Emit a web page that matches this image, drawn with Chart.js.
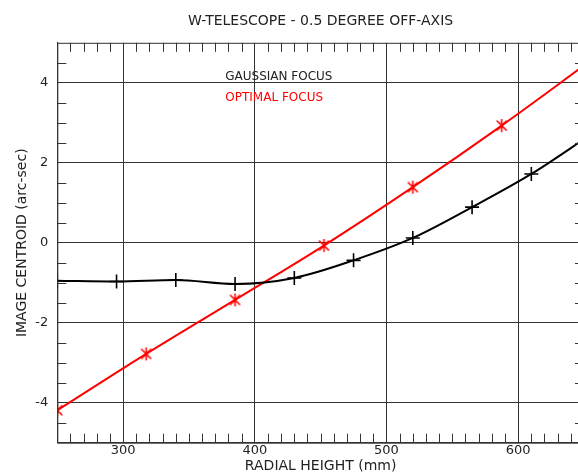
<!DOCTYPE html>
<html>
<head>
<meta charset="utf-8">
<title>W-Telescope 0.5 degree off-axis</title>
<script src="https://cdn.jsdelivr.net/npm/chart.js@4"></script>
<style>
  html, body { margin: 0; padding: 0; background: #fff; overflow: hidden; }
  #wrap { width: 600px; height: 473px; }
</style>
</head>
<body>
<div id="wrap"><canvas id="myChart" width="600" height="473"></canvas></div>
<script>
// gaussian focus (black, "+")
const radialGauss = [250, 295, 340, 385, 430, 475, 520, 565, 610, 655];
const centroidGauss = [-0.95, -0.97, -0.93, -1.03, -0.88, -0.44, 0.12, 0.89, 1.72, 2.70];

// optimal focus (red, asterisk)
const radialOpt = [250, 317.5, 385, 452.5, 520, 587.5, 655];
const centroidOpt = [-4.19, -2.78, -1.43, -0.07, 1.39, 2.93, 4.55];

const xTicks = [300, 400, 500, 600];
const yTicks = [-4, -2, 0, 2, 4];
const legendLabels = ["GAUSSIAN FOCUS", "OPTIMAL FOCUS"];

Chart.defaults.font.family = "'DejaVu Sans', sans-serif";
Chart.defaults.color = "#222";

// asterisk marker
function makeAsterisk(color) {
    const c = document.createElement("canvas");
    c.width = 15;
    c.height = 15;
    const g = c.getContext("2d");
    g.strokeStyle = color;
    g.lineWidth = 1.6;
    g.beginPath();
    g.moveTo(7.5, 1); g.lineTo(7.5, 14);
    g.moveTo(2.5, 2.5); g.lineTo(12.5, 12.5);
    g.moveTo(12.5, 2.5); g.lineTo(2.5, 12.5);
    g.stroke();
    return c;
}

// frame, minor ticks and the text legend
const frameTicks = {
    id: "frameTicks",
    afterDatasetsDraw(chart) {
        const { ctx, chartArea: a, scales } = chart;
        const x = scales.x, y = scales.y;
        ctx.save();
        ctx.strokeStyle = "#333";
        ctx.lineWidth = 1;
        ctx.beginPath();
        for (let v = 260; v < 650; v += 10) {
            if (v % 100 === 0) continue;
            const px = Math.round(x.getPixelForValue(v)) + 0.5;
            ctx.moveTo(px, a.bottom); ctx.lineTo(px, a.bottom - 9);
            ctx.moveTo(px, a.top); ctx.lineTo(px, a.top + 9);
        }
        for (let k = -9; k <= 9; k++) {
            if (k % 4 === 0) continue;
            const py = Math.round(y.getPixelForValue(k / 2)) + 0.5;
            ctx.moveTo(a.left, py); ctx.lineTo(a.left + 9, py);
            ctx.moveTo(a.right, py); ctx.lineTo(a.right - 9, py);
        }
        ctx.stroke();
        ctx.strokeRect(a.left + 0.5, a.top + 0.5, a.right - a.left, a.bottom - a.top);

        ctx.font = "12px 'DejaVu Sans', sans-serif";
        ctx.textBaseline = "middle";
        ctx.textAlign = "left";
        ctx.fillStyle = "#222";
        ctx.fillText(legendLabels[0], a.left + 168, a.top + 34);
        ctx.fillStyle = "#ff0000";
        ctx.fillText(legendLabels[1], a.left + 168, a.top + 55);
        ctx.restore();
    },
};

const ctx = document.getElementById("myChart");

new Chart(ctx, {
    type: "line",
    data: {
        datasets: [
            {
                label: legendLabels[0],
                data: radialGauss.map((r, i) => ({ x: r, y: centroidGauss[i] })),
                borderColor: "#000",
                borderWidth: 2,
                cubicInterpolationMode: "monotone",
                pointStyle: "cross",
                pointRadius: 7,
                pointBorderWidth: 1.6,
                pointBorderColor: "#000",
            },
            {
                label: legendLabels[1],
                data: radialOpt.map((r, i) => ({ x: r, y: centroidOpt[i] })),
                borderColor: "#ff0000",
                borderWidth: 2,
                cubicInterpolationMode: "monotone",
                pointStyle: makeAsterisk("#ff0000"),
            },
        ],
    },
    options: {
        responsive: false,
        animation: false,
        layout: { padding: { right: 16 } },
        plugins: {
            legend: { display: false },
            tooltip: { enabled: false },
            title: {
                display: true,
                fullSize: false,
                text: "W-TELESCOPE - 0.5 DEGREE OFF-AXIS",
                color: "#222",
                font: { size: 14, weight: "normal" },
                padding: { top: 13, bottom: 13 },
            },
        },
        scales: {
            x: {
                type: "linear",
                min: 250,
                max: 650,
                afterBuildTicks: (s) => { s.ticks = xTicks.map((v) => ({ value: v })); },
                afterFit: (s) => { s.height = 30.3; },
                grid: { color: "#333", lineWidth: 1, drawTicks: false },
                border: { display: true, color: "#333" },
                ticks: { padding: 0, font: { size: 13 }, color: "#222", maxRotation: 0 },
                title: {
                    display: true,
                    text: "RADIAL HEIGHT (mm)",
                    color: "#222",
                    font: { size: 14 },
                    padding: { top: 0, bottom: -2 },
                },
            },
            y: {
                type: "linear",
                min: -5,
                max: 5,
                afterBuildTicks: (s) => { s.ticks = yTicks.map((v) => ({ value: v })); },
                afterFit: (s) => { s.width = 57.3; },
                grid: { color: "#333", lineWidth: 1, drawTicks: false },
                border: { display: true, color: "#333" },
                ticks: { padding: 9, font: { size: 13 }, color: "#222" },
                title: {
                    display: true,
                    text: "IMAGE CENTROID (arc-sec)",
                    color: "#222",
                    font: { size: 14 },
                    padding: { top: 13.6, bottom: 0 },
                },
            },
        },
    },
    plugins: [frameTicks],
});
</script>
</body>
</html>
